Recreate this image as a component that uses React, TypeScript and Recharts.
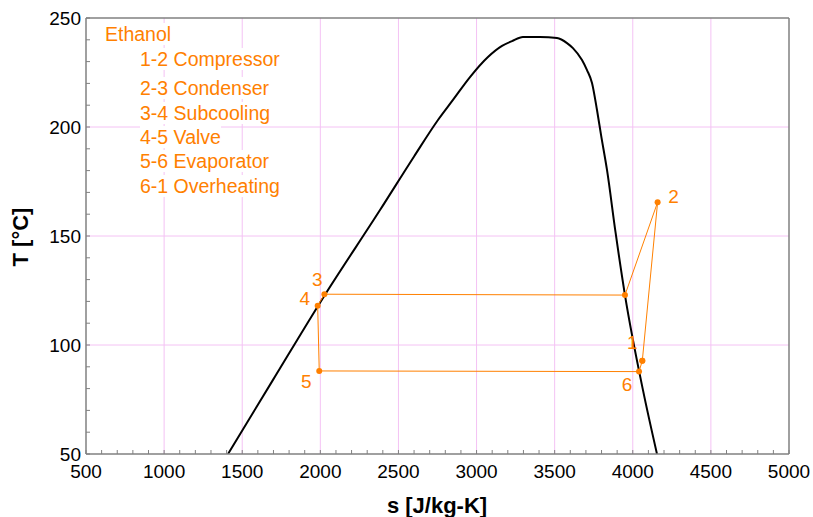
import React from "react";
import { LineChart, Line, XAxis, YAxis, ReferenceLine, LabelList } from "recharts";

// saturation dome of ethanol (s in J/kg-K, T in °C)
const domeS = [1409, 1697, 2017, 2382, 2600, 2753, 2849, 2958, 3073, 3163, 3227, 3297, 3406, 3515, 3579, 3617, 3675, 3707, 3739, 3771, 3797, 3835, 3890, 3950, 4065, 4155];
const domeT = [50, 84, 121.6, 161.9, 186.5, 203.2, 212.4, 222.9, 232.1, 237.2, 239.4, 241.3, 241.3, 240.8, 238.5, 236.2, 230.7, 226.1, 220.2, 207.8, 196.3, 180.3, 151.5, 122.9, 79.4, 50];

// cycle 1 -> 2 -> (sat. vapour) -> 3 -> 4 -> 5 -> 6 -> 1
const cycleS = [4061, 4159, 3950, 2026, 1983, 1993, 4040, 4061];
const cycleT = [92.8, 165.5, 122.9, 123.3, 118.0, 88.1, 87.8, 92.8];
const cycleNames = ["1", "2", "", "3", "4", "5", "6", ""];

const xMajorTicks = [500, 1000, 1500, 2000, 2500, 3000, 3500, 4000, 4500, 5000];
const yMajorTicks = [50, 100, 150, 200, 250];

const legendTitle = "Ethanol";
const legendItems = ["1-2 Compressor", "2-3 Condenser", "3-4 Subcooling", "4-5 Valve", "5-6 Evaporator", "6-1 Overheating"];

const ORANGE = "#ff8000";
const FRAME = "#808080";
const GRID = "#f4c2f4";
const FONT = "'Liberation Sans', Arial, sans-serif";

// label offsets (px) of the point numbers, same order as cycleNames
const labelOffsets = [[-10, -18], [16, -6], [0, 0], [-7, -15], [-13, -7], [-13, 11], [-12, 13], [0, 0]];
// baselines of the legend rows
const legendBaselines = [41, 66, 95, 120, 144, 168, 193];

const xMinorTicks: number[] = [];
for (let v = 500; v <= 5000; v += 100) xMinorTicks.push(v);
const yMinorTicks: number[] = [];
for (let v = 50; v <= 250; v += 10) yMinorTicks.push(v);

const domeData = domeS.map((s, i) => ({ s, T: domeT[i] }));
const cycleData = cycleS.map((s, i) => ({ s, T: cycleT[i], name: cycleNames[i] }));

function BottomTick({ x, y, payload }: any) {
  const major = xMajorTicks.includes(payload.value);
  return (
    <g>
      <line x1={x} y1={y} x2={x} y2={y - 4} stroke={FRAME} />
      {major && (
        <text x={x} y={y + 24} textAnchor="middle" fontSize={19} fill="#000" fontFamily={FONT}>
          {payload.value}
        </text>
      )}
    </g>
  );
}

function TopTick({ x, y }: any) {
  return <line x1={x} y1={y} x2={x} y2={y + 4} stroke={FRAME} />;
}

function LeftTick({ x, y, payload }: any) {
  const major = yMajorTicks.includes(payload.value);
  return (
    <g>
      <line x1={x} y1={y} x2={x + 4} y2={y} stroke={FRAME} />
      {major && (
        <text x={x - 5} y={y + 7} textAnchor="end" fontSize={19} fill="#000" fontFamily={FONT}>
          {payload.value}
        </text>
      )}
    </g>
  );
}

function PointLabel(props: any) {
  const { x, y, value, index } = props;
  if (!value) return null;
  const [dx, dy] = labelOffsets[index];
  return (
    <text x={x + dx} y={y + dy} textAnchor="middle" dominantBaseline="central" fontSize={19} fill={ORANGE} fontFamily={FONT}>
      {value}
    </text>
  );
}

export default function App() {
  const rows = [legendTitle, ...legendItems];
  return (
    <div style={{ position: "absolute", left: 0, top: 0, width: 813, height: 517, background: "#fff", fontFamily: FONT }}>
      <LineChart width={813} height={517} margin={{ top: 17, right: 24, bottom: 13, left: 26 }}>
        {xMajorTicks.slice(1, -1).map((v) => (
          <ReferenceLine key={"gx" + v} x={v} stroke={GRID} strokeWidth={1} />
        ))}
        {yMajorTicks.slice(1, -1).map((v) => (
          <ReferenceLine key={"gy" + v} y={v} stroke={GRID} strokeWidth={1} />
        ))}
        <XAxis
          dataKey="s"
          type="number"
          domain={[500, 5000]}
          ticks={xMinorTicks}
          interval={0}
          tickSize={0}
          tickMargin={0}
          tick={<BottomTick />}
          axisLine={{ stroke: FRAME, strokeWidth: 1.5 }}
          height={50}
          allowDataOverflow
          label={{
            content: () => (
              <text x={437} y={505} textAnchor="middle" dominantBaseline="central" fontSize={22} fontWeight="bold" fill="#000" fontFamily={FONT}>
                s [J/kg-K]
              </text>
            ),
          }}
        />
        <XAxis
          xAxisId="top"
          orientation="top"
          type="number"
          domain={[500, 5000]}
          ticks={xMinorTicks}
          interval={0}
          tickSize={0}
          tickMargin={0}
          tick={<TopTick />}
          axisLine={{ stroke: FRAME, strokeWidth: 1.5 }}
          height={1}
          allowDataOverflow
        />
        <YAxis
          type="number"
          domain={[50, 250]}
          ticks={yMinorTicks}
          interval={0}
          tickSize={0}
          tickMargin={0}
          tick={<LeftTick />}
          axisLine={{ stroke: FRAME, strokeWidth: 1.5 }}
          width={60}
          allowDataOverflow
          label={{
            content: () => (
              <text x={20} y={237} transform="rotate(-90 20 237)" textAnchor="middle" dominantBaseline="central" fontSize={22} fontWeight="bold" fill="#000" fontFamily={FONT}>
                T [°C]
              </text>
            ),
          }}
        />
        <ReferenceLine x={5000} stroke={FRAME} strokeWidth={1.5} />
        <Line data={domeData} dataKey="T" type="monotone" stroke="#000" strokeWidth={2} dot={false} isAnimationActive={false} />
        <Line
          data={cycleData}
          dataKey="T"
          type="linear"
          stroke={ORANGE}
          strokeWidth={1}
          dot={{ r: 3, fill: ORANGE, stroke: "none" }}
          isAnimationActive={false}
        >
          <LabelList dataKey="name" content={<PointLabel />} />
        </Line>
      </LineChart>
      {rows.map((r, i) => (
        <div
          key={r}
          style={{ position: "absolute", left: i === 0 ? 105 : 140, top: legendBaselines[i] - 16, fontSize: 19.5, lineHeight: "19px", color: ORANGE, whiteSpace: "nowrap" }}
        >
          <span style={{ background: "#fff" }}>{r}</span>
        </div>
      ))}
    </div>
  );
}
